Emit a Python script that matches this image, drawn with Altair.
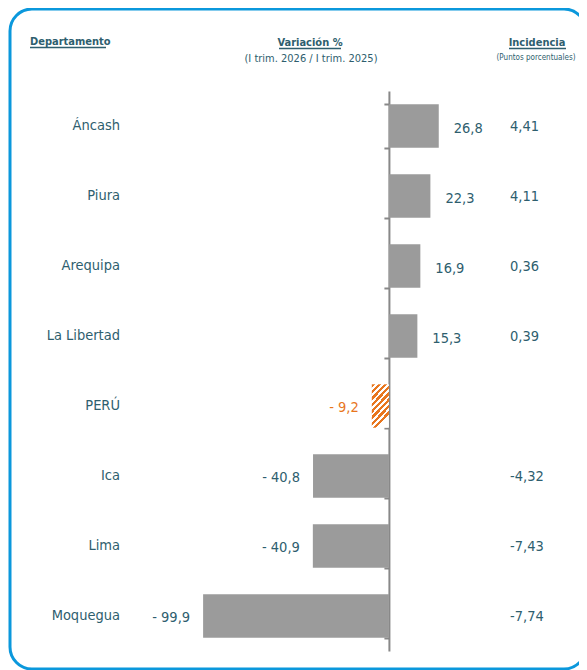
import altair as alt
import pandas as pd

departamentos = ["Áncash", "Piura", "Arequipa", "La Libertad", "PERÚ", "Ica", "Lima", "Moquegua"]
variacion = [26.8, 22.3, 16.9, 15.3, -9.2, -40.8, -40.9, -99.9]
incidencia = [4.41, 4.11, 0.36, 0.39, None, -4.32, -7.43, -7.74]


def fmt_var(v):
    s = f"{abs(v):.1f}".replace(".", ",")
    return s if v >= 0 else "- " + s


def fmt_inc(v):
    if v is None:
        return ""
    return f"{v:.2f}".replace(".", ",")


df = pd.DataFrame({
    "dep": departamentos,
    "var": variacion,
    "var_lbl": [fmt_var(v) for v in variacion],
    "inc_lbl": [fmt_inc(v) for v in incidencia],
})

W, H = 571, 662
FONT = "Liberation Sans Narrow, DejaVu Sans Condensed, sans-serif"
TEAL = "#2E5E6E"
ORANGE = "#E8761E"
GRAY = "#9B9B9B"
AX = "#888888"

x0, x1 = -204.8, 102.2
zero_px = -x0 / (x1 - x0) * W

xs = alt.X("var:Q", scale=alt.Scale(domain=[x0, x1], range=[0, W], nice=False, zero=False), axis=None)
ys = alt.Y(
    "dep:N",
    sort=departamentos,
    scale=alt.Scale(domain=departamentos, range=[83, 643], paddingInner=0.38, paddingOuter=0.19),
    axis=alt.Axis(
        labels=False, title=None, tickBand="extent", offset=-zero_px,
        domainColor=AX, domainWidth=2, tickColor=AX, tickWidth=2, tickSize=5, grid=False,
    ),
)

base = alt.Chart(df)
one = alt.Chart(alt.Data(values=[{"a": 1}]))

border = one.mark_rect(
    fillOpacity=0, stroke="#0B98DC", strokeWidth=3, cornerRadius=22
).encode(x=alt.value(2), x2=alt.value(578), y=alt.value(1), y2=alt.value(661))

bars = base.transform_filter(alt.datum.dep != "PERÚ").mark_bar(color=GRAY).encode(x=xs, y=ys)

stops = []
n = 8
for i in range(n):
    a = i / n
    b = (i + 0.55) / n
    c = (i + 1) / n
    stops += [
        alt.GradientStop(color=ORANGE, offset=a),
        alt.GradientStop(color=ORANGE, offset=b),
        alt.GradientStop(color="#FFFFFF", offset=b),
        alt.GradientStop(color="#FFFFFF", offset=c),
    ]
hatch = alt.LinearGradient(gradient="linear", stops=stops, x1=0, y1=0, x2=0.42, y2=1)

peru = base.transform_filter(alt.datum.dep == "PERÚ").mark_bar(color=hatch).encode(x=xs, y=ys)

FS = 14.5
names = base.mark_text(align="right", baseline="middle", font=FONT, fontSize=FS, color=TEAL).encode(
    x=alt.value(112), y=ys, text="dep:N"
)

lbl_color = alt.condition(alt.datum.dep == "PERÚ", alt.value(ORANGE), alt.value(TEAL))

pos_lbl = base.transform_filter(alt.datum["var"] >= 0).mark_text(
    align="left", baseline="middle", dx=15, dy=3, font=FONT, fontSize=FS
).encode(x=xs, y=ys, text="var_lbl:N", color=lbl_color)

neg_lbl = base.transform_filter(alt.datum["var"] < 0).mark_text(
    align="right", baseline="middle", dx=-13, dy=2, font=FONT, fontSize=FS
).encode(x=xs, y=ys, text="var_lbl:N", color=lbl_color)

inc_lbl = base.mark_text(align="left", baseline="middle", dy=1, font=FONT, fontSize=FS, color=TEAL).encode(
    x=alt.value(502), y=ys, text="inc_lbl:N"
)


def header(txt, x, y, size, bold=False, align="center"):
    return one.mark_text(
        text=txt, align=align, baseline="alphabetic" if bold else "middle", font=FONT, fontSize=size,
        fontWeight="bold" if bold else "normal", color=TEAL,
    ).encode(x=alt.value(x), y=alt.value(y))


def uline(xa, xb, y):
    return one.mark_rule(color=TEAL, strokeWidth=1.3).encode(
        x=alt.value(xa), x2=alt.value(xb), y=alt.value(y)
    )


h1 = header("Departamento", 22, 37, 11, bold=True, align="left")
u1 = uline(22, 98, 39.5)
h2 = header("Variación %", 302, 38, 11, bold=True)
u2 = uline(271, 333, 40.5)
h3 = header("(I trim. 2026 / I trim. 2025)", 303, 51, 11)
h4 = header("Incidencia", 529, 38, 11, bold=True)
u4 = uline(501, 558, 40.5)
h5 = header("(Puntos porcentuales)", 528, 50, 8)

chart = alt.layer(
    bars, peru, border, names, pos_lbl, neg_lbl, inc_lbl, h1, u1, h2, u2, h3, h4, u4, h5
).properties(
    width=W, height=H, autosize=alt.AutoSizeParams(type="none"), padding=0
).configure_view(stroke=None)

chart.save("out.html", embed_options={"renderer": "svg", "actions": False})
